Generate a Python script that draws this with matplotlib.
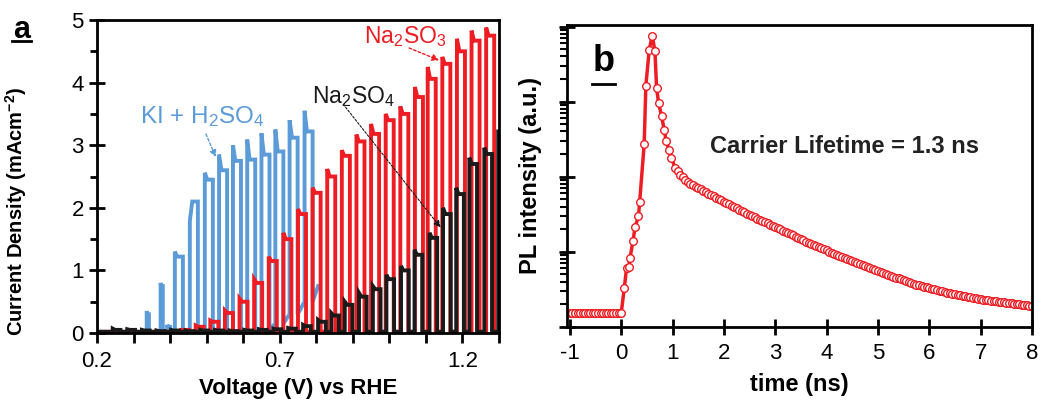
import numpy as np
import matplotlib.pyplot as plt
from matplotlib.lines import Line2D
from matplotlib.ticker import MultipleLocator, FixedLocator, LogLocator, NullFormatter

plt.rcParams['font.family'] = ['Liberation Sans', 'DejaVu Sans']
plt.rcParams['mathtext.fontset'] = 'custom'
plt.rcParams['mathtext.rm'] = 'Liberation Sans'
plt.rcParams['mathtext.it'] = 'Liberation Sans:italic'
plt.rcParams['mathtext.bf'] = 'Liberation Sans:bold'
plt.rcParams['axes.unicode_minus'] = False

# ---- panel a: chopped-light LSV, one entry per light pulse ----
# KI + H2SO4
blue_on = [0.336, 0.374, 0.392, 0.413, 0.454, 0.495, 0.534, 0.572, 0.611, 0.650, 0.688, 0.727, 0.768]
blue_peak = [0.35, 0.80, 0.13, 1.30, 1.79, 2.56, 2.85, 3.00, 3.09, 3.19, 3.25, 3.40, 3.55]
blue_flat = [0.30, 0.75, 0.10, 1.22, 2.10, 2.45, 2.60, 2.75, 2.77, 2.85, 2.90, 3.12, 3.22]
blue_dark = [0.0, 0.0, 0.0, 0.0, 0.0, 0.0, 0.0, 0.0, 0.02, 0.06, 0.15, 0.30, 0.50]
blue_width = [0.006, 0.006, 0.008, 0.022, 0.022, 0.022, 0.022, 0.022, 0.022, 0.022, 0.022, 0.022, 0.022]
blue_end = (0.805, 0.75)

# Na2SO3
red_on = [0.43, 0.47, 0.51, 0.55, 0.59, 0.63, 0.67, 0.71, 0.75, 0.79, 0.83, 0.87,
          0.91, 0.95, 0.99, 1.03, 1.07, 1.105, 1.145, 1.185, 1.225, 1.265]
red_peak = [0.05, 0.12, 0.20, 0.36, 0.55, 0.86, 1.22, 1.60, 1.98, 2.32, 2.62, 2.92,
            3.17, 3.34, 3.50, 3.62, 3.93, 4.25, 4.41, 4.70, 4.83, 4.88]
red_flat = [0.05, 0.10, 0.18, 0.32, 0.50, 0.80, 1.15, 1.50, 1.90, 2.24, 2.50, 2.83,
            3.06, 3.18, 3.40, 3.50, 3.77, 4.06, 4.30, 4.50, 4.67, 4.75]
red_dark = 0.02

# Na2SO4
black_on = [0.243, 0.283, 0.323, 0.363, 0.403, 0.443, 0.483, 0.523, 0.563, 0.603, 0.643, 0.683,
            0.723, 0.764, 0.805, 0.841, 0.878, 0.917, 0.955, 0.992, 1.032, 1.069, 1.110,
            1.147, 1.183, 1.219, 1.260, 1.298]
black_peak = [0.07, 0.06, 0.05, 0.04, 0.05, 0.04, 0.05, 0.05, 0.04, 0.05, 0.06, 0.07,
              0.08, 0.13, 0.21, 0.32, 0.50, 0.64, 0.75, 0.93, 1.07, 1.33, 1.60,
              2.00, 2.32, 2.80, 2.96, 3.22]
black_flat = [0.05, 0.05, 0.04, 0.03, 0.04, 0.03, 0.04, 0.04, 0.03, 0.04, 0.05, 0.06,
              0.07, 0.11, 0.18, 0.28, 0.45, 0.58, 0.70, 0.86, 1.00, 1.25, 1.52,
              1.90, 2.22, 2.70, 2.86, 3.22]
black_dark = 0.02

# ---- panel b: PL decay (log10 of counts) ----
pl_head_t = [-1.0, -0.95, -0.9, -0.85, -0.8, -0.75, -0.7, -0.65, -0.6, -0.55, -0.5,
             -0.45, -0.4, -0.35, -0.3, -0.25, -0.2, -0.15, -0.1, -0.05, 0.0,
             0.06, 0.105, 0.15, 0.17, 0.23, 0.27, 0.337, 0.36, 0.448, 0.481, 0.546,
             0.604, 0.657, 0.69, 0.729, 0.787, 0.838, 0.877, 0.93, 0.98]
pl_head_log = [1.178] * 21 + [1.51, 1.78, 1.80, 1.91, 2.14, 2.325, 2.47, 2.66, 3.43, 4.213, 4.689,
                              4.876, 4.68, 4.18, 3.979, 3.81, 3.62, 3.476, 3.356, 3.245]
pl_tail_t = np.round(np.arange(1.05, 8.001, 0.05), 2)
pl_tail_log = [
    3.12, 3.07, 3.025, 2.99, 2.955, 2.925, 2.90, 2.885, 2.865, 2.85,
    2.83, 2.81, 2.79, 2.774, 2.756, 2.738, 2.72, 2.702, 2.685, 2.667,
    2.649, 2.631, 2.614, 2.596, 2.578, 2.56, 2.543, 2.525, 2.507, 2.489,
    2.473, 2.457, 2.441, 2.425, 2.409, 2.393, 2.377, 2.361, 2.344, 2.328,
    2.312, 2.296, 2.28, 2.264, 2.248, 2.232, 2.216, 2.20, 2.184, 2.168,
    2.151, 2.135, 2.119, 2.103, 2.087, 2.071, 2.057, 2.043, 2.03, 2.016,
    2.002, 1.989, 1.975, 1.961, 1.948, 1.934, 1.92, 1.907, 1.893, 1.879,
    1.866, 1.852, 1.838, 1.825, 1.811, 1.797, 1.784, 1.77, 1.756, 1.743,
    1.729, 1.715, 1.703, 1.691, 1.679, 1.667, 1.655, 1.643, 1.631, 1.619,
    1.607, 1.595, 1.583, 1.571, 1.559, 1.55, 1.541, 1.533, 1.524, 1.516,
    1.507, 1.499, 1.49, 1.482, 1.473, 1.465, 1.456, 1.448, 1.441, 1.434,
    1.427, 1.421, 1.414, 1.407, 1.40, 1.393, 1.386, 1.379, 1.373, 1.366,
    1.359, 1.354, 1.35, 1.346, 1.341, 1.337, 1.333, 1.328, 1.324, 1.32,
    1.316, 1.311, 1.307, 1.303, 1.299, 1.295, 1.29, 1.286, 1.282, 1.278]

BLUE = '#5b9bd8'
RED = '#ee1d23'
BLACK = '#1a1a1a'


def chopped(v0, on, peak, flat, dark, width, end=None):
    n = len(on)
    if np.isscalar(dark):
        dark = [dark] * n
    if np.isscalar(width):
        width = [width] * n
    xs, ys = [v0], [dark[0]]
    for k in range(n):
        w = width[k]
        xs += [on[k], on[k], on[k] + 0.3 * w, on[k] + w, on[k] + w]
        ys += [dark[k], peak[k], flat[k], flat[k], dark[k]]
    if end is not None:
        xs.append(end[0])
        ys.append(end[1])
    return xs, ys


fig = plt.figure(figsize=(10.41, 4.04), dpi=100)
ax1 = fig.add_axes([0.0932, 0.1757, 0.3861, 0.7748])
ax2 = fig.add_axes([0.5444, 0.1913, 0.4470, 0.7468])

bx, by = chopped(0.30, blue_on, blue_peak, blue_flat, blue_dark, blue_width, blue_end)
ax1.plot(bx, by, color=BLUE, lw=2.8, solid_joinstyle='miter')
rx, ry = chopped(0.20, red_on, red_peak, red_flat, red_dark, 0.022, (1.3, red_dark))
ax1.plot(rx, ry, color=RED, lw=2.8, solid_joinstyle='miter')
kx, ky = chopped(0.20, black_on, black_peak, black_flat, black_dark, 0.021)
ax1.plot(kx, ky, color=BLACK, lw=2.8, solid_joinstyle='miter')

ax1.set_xlim(0.2, 1.3)
ax1.set_ylim(0, 5)
ax1.xaxis.set_major_locator(FixedLocator([0.2, 0.7, 1.2]))
ax1.xaxis.set_minor_locator(MultipleLocator(0.1))
ax1.yaxis.set_major_locator(MultipleLocator(1))
ax1.yaxis.set_minor_locator(MultipleLocator(0.5))
ax1.tick_params(axis='x', which='both', direction='out', length=7, width=2, labelsize=16, pad=6)
ax1.tick_params(axis='y', which='major', direction='inout', length=12, width=2, labelsize=16)
ax1.tick_params(axis='y', which='minor', direction='out', length=5, width=2)
ax1.set_xlabel('Voltage (V) vs RHE', fontsize=16, fontweight='bold', labelpad=4)
ax1.set_ylabel('Current Density (mAcm$^{\\mathbf{-2}}$)', fontsize=14.5, fontweight='bold')
ax1.yaxis.set_label_coords(-0.17, 0.39)
for s in ax1.spines.values():
    s.set_linewidth(2)

ax1.text(0.317, 3.45, 'KI + H$_2$SO$_4$', color=BLUE, fontsize=17.5, va='center', ha='left')
ax1.annotate('', xy=(0.528, 2.77), xytext=(0.495, 3.22),
             arrowprops=dict(arrowstyle='-|>', color=BLUE, lw=1, linestyle=(0, (2, 1.5)), mutation_scale=10))
ax1.text(0.932, 4.73, 'Na$_2$SO$_3$', color=RED, fontsize=16.5, va='center', ha='left')
ax1.annotate('', xy=(1.143, 4.34), xytext=(1.047, 4.57),
             arrowprops=dict(arrowstyle='-|>', color=RED, lw=1, linestyle=(0, (2, 1.5)), mutation_scale=10))
ax1.text(0.787, 3.78, 'Na$_2$SO$_4$', color=BLACK, fontsize=16.5, va='center', ha='left')
ax1.annotate('', xy=(1.145, 1.65), xytext=(0.869, 3.69),
             arrowprops=dict(arrowstyle='-|>', color=BLACK, lw=0.8, linestyle=(0, (2, 1.5)), mutation_scale=10))

fig.text(0.0125, 0.926, 'a', fontsize=22, fontweight='bold', va='center', ha='left')
fig.add_artist(Line2D([0.012, 0.030], [0.899, 0.899], color='black', lw=2))

# panel b
pl_t = list(pl_head_t) + list(pl_tail_t)
pl = 10 ** np.array(pl_head_log + pl_tail_log)
ax2.plot(pl_t, pl, color=RED, lw=2.5, marker='o', ms=5.5, mfc='white', mec=RED, mew=1)
ax2.set_yscale('log')
ax2.set_xlim(-1.06, 8.0)
ax2.set_ylim(10, 1.05e5)
ax2.xaxis.set_major_locator(MultipleLocator(1))
ax2.yaxis.set_major_locator(LogLocator(base=10, numticks=10))
ax2.yaxis.set_minor_locator(LogLocator(base=10, subs=np.arange(2, 10), numticks=50))
ax2.yaxis.set_major_formatter(NullFormatter())
ax2.yaxis.set_minor_formatter(NullFormatter())
ax2.tick_params(axis='x', which='major', direction='inout', length=12, width=2, labelsize=16, pad=6)
ax2.tick_params(axis='y', which='major', direction='inout', length=12, width=2)
ax2.tick_params(axis='y', which='minor', direction='out', length=5, width=1.5)
ax2.set_xlabel('time (ns)', fontsize=17, fontweight='bold', labelpad=6)
ax2.set_ylabel('PL intensity (a.u.)', fontsize=17, fontweight='bold', labelpad=8)
for s in ax2.spines.values():
    s.set_linewidth(2)
ax2.text(0.308, 0.596, 'Carrier Lifetime = 1.3 ns', transform=ax2.transAxes, fontsize=17,
         fontweight='bold', va='center', ha='left', color='#222222')
ax2.text(0.056, 0.878, 'b', transform=ax2.transAxes, fontsize=26, fontweight='bold', va='center', ha='left')
ax2.add_line(Line2D([0.055, 0.103], [0.805, 0.805], transform=ax2.transAxes, color='black', lw=2))

fig.savefig('out.png', dpi=100)
